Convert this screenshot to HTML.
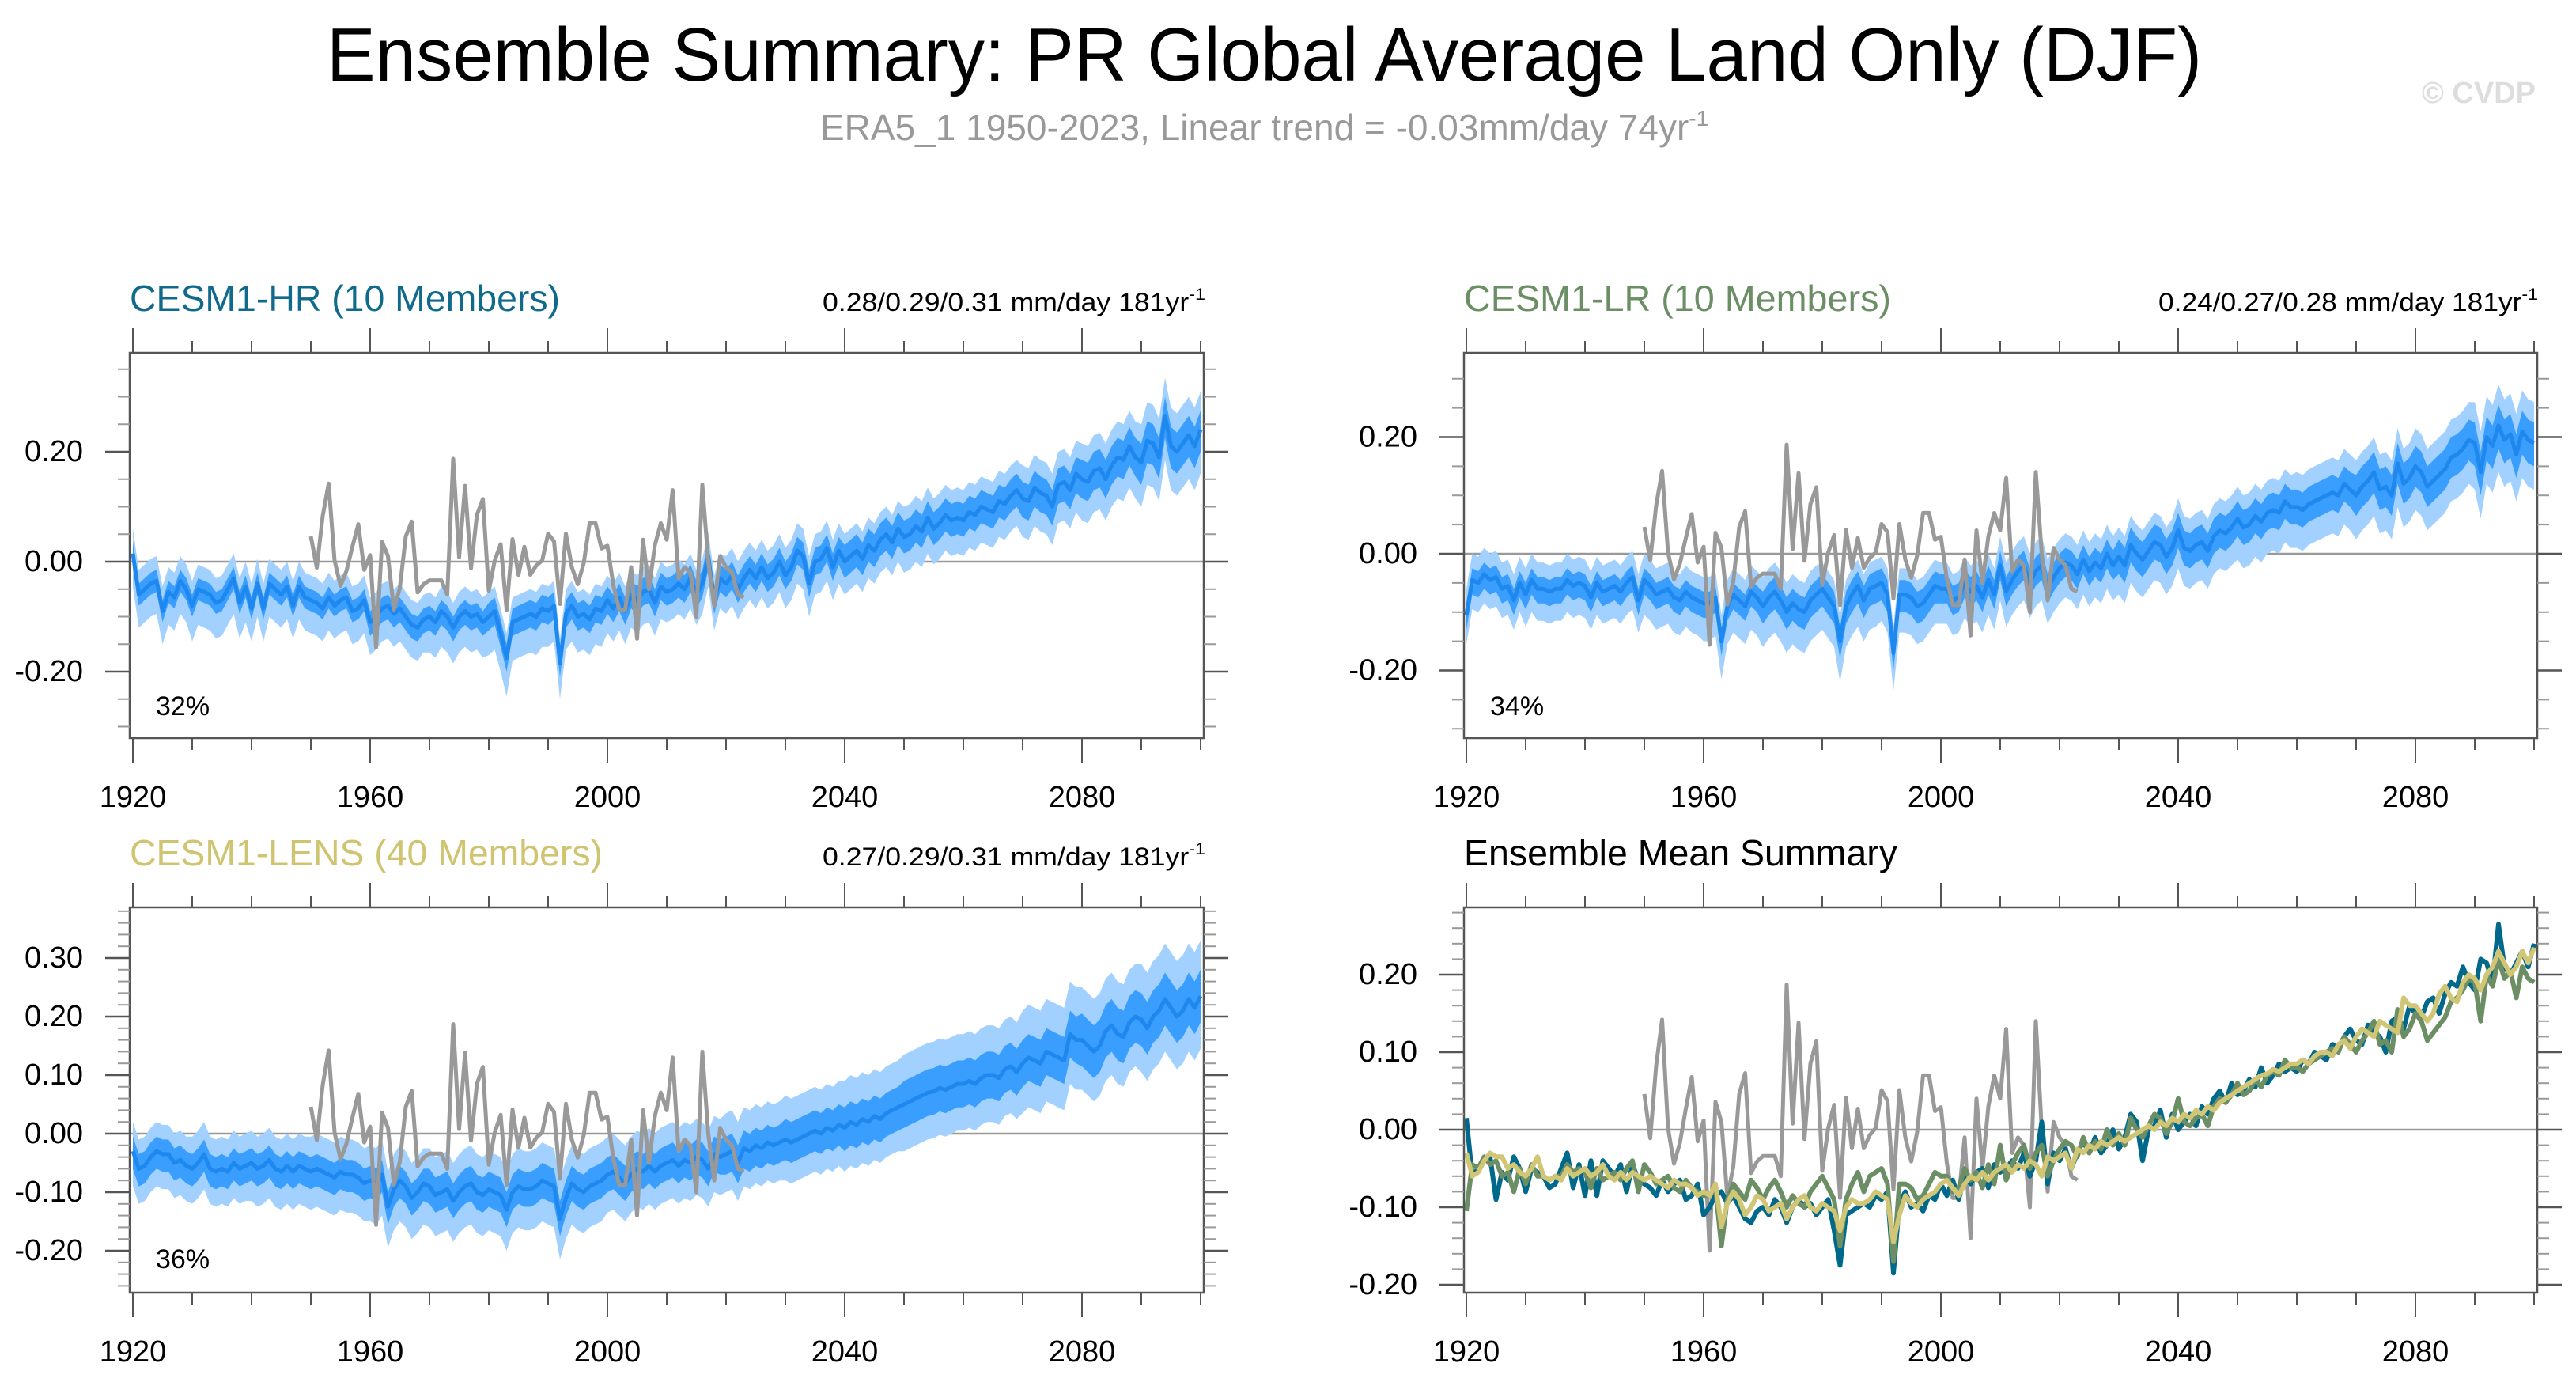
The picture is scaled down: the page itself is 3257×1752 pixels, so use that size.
<!DOCTYPE html>
<html><head><meta charset="utf-8">
<style>
html,body{margin:0;padding:0;background:#fff;}
svg{display:block;font-family:"Liberation Sans",Arial,sans-serif;}
</style></head>
<body>
<svg id="fig" width="3257" height="1752" viewBox="0 0 3257 1752" xmlns="http://www.w3.org/2000/svg">
<rect x="0" y="0" width="3257" height="1752" fill="#fff"/>
<text x="413" y="102" font-size="96" textLength="2371" lengthAdjust="spacingAndGlyphs" fill="#000">Ensemble Summary: PR Global Average Land Only (DJF)</text>
<text x="1037" y="177" font-size="46" fill="#999">ERA5_1 1950-2023, Linear trend = -0.03mm/day 74yr<tspan dy="-18" font-size="28">-1</tspan></text>
<text x="3206" y="130" font-size="38" font-weight="bold" text-anchor="end" fill="#ddd">© CVDP</text>

<text x="164" y="393" font-size="46" textLength="544" lengthAdjust="spacingAndGlyphs" fill="#0f6a8c">CESM1-HR (10 Members)</text>
<text x="1040" y="393" font-size="32" textLength="484" lengthAdjust="spacingAndGlyphs" fill="#000">0.28/0.29/0.31 mm/day 181yr<tspan dy="-14" font-size="21">-1</tspan></text>
<text x="1851" y="393" font-size="46" textLength="540" lengthAdjust="spacingAndGlyphs" fill="#6b8e65">CESM1-LR (10 Members)</text>
<text x="2729" y="393" font-size="32" textLength="480" lengthAdjust="spacingAndGlyphs" fill="#000">0.24/0.27/0.28 mm/day 181yr<tspan dy="-14" font-size="21">-1</tspan></text>
<text x="164" y="1094" font-size="46" textLength="598" lengthAdjust="spacingAndGlyphs" fill="#cfc470">CESM1-LENS (40 Members)</text>
<text x="1040" y="1094" font-size="32" textLength="484" lengthAdjust="spacingAndGlyphs" fill="#000">0.27/0.29/0.31 mm/day 181yr<tspan dy="-14" font-size="21">-1</tspan></text>
<text x="1851" y="1094" font-size="46" textLength="548" lengthAdjust="spacingAndGlyphs" fill="#000">Ensemble Mean Summary</text>
<text x="197" y="904" font-size="34" fill="#000">32%</text>
<text x="1884" y="904" font-size="34" fill="#000">34%</text>
<text x="197" y="1603" font-size="34" fill="#000">36%</text>
</svg>
<script>
// ---------- data ----------
const startYear = 1920;
const obsStart = 1950;
const obs = [0.046,-0.011,0.083,0.142,0.002,-0.044,-0.017,0.027,0.068,-0.015,
0.012,-0.156,0.036,0.010,-0.087,-0.048,0.046,0.073,-0.056,-0.041,
-0.034,-0.034,-0.034,-0.060,0.187,0.008,0.138,-0.012,0.085,0.114,
-0.053,0.002,0.032,-0.088,0.041,-0.024,0.027,-0.024,-0.007,0.002,
0.051,0.037,-0.077,0.051,-0.010,-0.041,-0.003,0.070,0.070,0.024,
0.029,-0.043,-0.088,-0.088,-0.010,
-0.14,0.04,-0.05,0.03,0.07,0.04,0.13,-0.03,-0.01,-0.02,-0.10,0.14,0.0,-0.08,0.01,-0.01,-0.02,-0.06,-0.065];

const hrMean = [0.015,-0.06,-0.05,-0.04,-0.035,-0.09,-0.055,-0.065,-0.035,-0.05,
-0.08,-0.05,-0.055,-0.06,-0.075,-0.07,-0.05,-0.03,-0.075,-0.045,
-0.085,-0.04,-0.085,-0.04,-0.05,-0.06,-0.045,-0.08,-0.045,-0.065,
-0.07,-0.075,-0.085,-0.065,-0.08,-0.07,-0.065,-0.09,-0.085,-0.07,
-0.11,-0.1,-0.085,-0.08,-0.095,-0.085,-0.1,-0.115,-0.12,-0.105,
-0.1,-0.11,-0.09,-0.1,-0.12,-0.1,-0.09,-0.1,-0.095,-0.11,
-0.1,-0.09,-0.13,-0.175,-0.11,-0.105,-0.1,-0.095,-0.1,-0.085,
-0.09,-0.08,-0.185,-0.095,-0.08,-0.1,-0.095,-0.105,-0.085,-0.09,
-0.07,-0.085,-0.065,-0.09,-0.06,-0.07,-0.055,-0.05,-0.075,-0.045,
-0.055,-0.05,-0.04,-0.05,-0.03,-0.06,-0.04,0.01,-0.07,-0.03,
-0.04,-0.025,-0.05,-0.03,-0.015,-0.03,-0.01,-0.03,-0.02,0.0,
-0.025,-0.01,0.02,0.01,-0.04,0.0,0.005,0.025,-0.01,0.02,
0.0,0.01,0.02,0.005,0.03,0.02,0.04,0.05,0.035,0.06,
0.045,0.05,0.065,0.055,0.08,0.06,0.07,0.085,0.075,0.08,
0.075,0.09,0.085,0.1,0.095,0.09,0.11,0.105,0.12,0.13,
0.115,0.11,0.135,0.125,0.12,0.1,0.14,0.145,0.13,0.16,
0.15,0.145,0.165,0.17,0.15,0.175,0.19,0.185,0.21,0.19,
0.18,0.22,0.215,0.19,0.265,0.21,0.2,0.215,0.23,0.21,
0.24];

const lrMean = [-0.105,-0.045,-0.05,-0.035,-0.045,-0.04,-0.06,-0.055,-0.08,-0.05,
-0.07,-0.045,-0.06,-0.06,-0.065,-0.06,-0.06,-0.045,-0.055,-0.05,
-0.055,-0.075,-0.05,-0.065,-0.06,-0.055,-0.065,-0.05,-0.04,-0.08,
-0.045,-0.055,-0.07,-0.065,-0.06,-0.075,-0.08,-0.065,-0.075,-0.08,
-0.085,-0.085,-0.075,-0.15,-0.09,-0.07,-0.08,-0.09,-0.065,-0.075,
-0.09,-0.075,-0.065,-0.08,-0.1,-0.085,-0.095,-0.1,-0.08,-0.07,
-0.06,-0.075,-0.09,-0.15,-0.09,-0.07,-0.055,-0.08,-0.06,-0.055,
-0.05,-0.07,-0.17,-0.07,-0.07,-0.075,-0.09,-0.085,-0.07,-0.055,
-0.06,-0.06,-0.08,-0.075,-0.05,-0.065,-0.055,-0.075,-0.045,-0.07,
-0.02,-0.065,-0.045,-0.03,-0.02,-0.05,-0.03,-0.02,-0.06,-0.04,
-0.025,-0.015,-0.02,-0.035,-0.01,-0.03,-0.015,-0.025,0.0,-0.02,
-0.005,-0.02,0.015,0.0,-0.01,0.005,0.02,0.015,-0.005,0.01,
0.04,0.01,0.005,0.015,0.02,0.005,0.03,0.04,0.035,0.045,
0.06,0.045,0.05,0.065,0.055,0.07,0.075,0.07,0.09,0.08,
0.08,0.075,0.085,0.09,0.095,0.1,0.105,0.1,0.12,0.11,
0.1,0.115,0.125,0.14,0.11,0.115,0.1,0.155,0.12,0.13,
0.15,0.14,0.115,0.125,0.135,0.145,0.165,0.17,0.18,0.195,
0.19,0.14,0.2,0.185,0.22,0.195,0.205,0.17,0.21,0.195,
0.19];

const lensMean = [-0.03,-0.06,-0.055,-0.04,-0.03,-0.035,-0.035,-0.05,-0.045,-0.055,
-0.06,-0.05,-0.035,-0.06,-0.065,-0.06,-0.065,-0.05,-0.06,-0.055,
-0.05,-0.06,-0.055,-0.045,-0.06,-0.065,-0.055,-0.065,-0.055,-0.06,
-0.065,-0.06,-0.065,-0.07,-0.075,-0.065,-0.07,-0.07,-0.075,-0.085,
-0.08,-0.085,-0.07,-0.125,-0.095,-0.08,-0.09,-0.11,-0.1,-0.085,
-0.09,-0.105,-0.1,-0.095,-0.115,-0.1,-0.09,-0.085,-0.1,-0.105,
-0.095,-0.1,-0.105,-0.13,-0.1,-0.09,-0.095,-0.095,-0.09,-0.08,
-0.085,-0.09,-0.145,-0.11,-0.085,-0.095,-0.1,-0.09,-0.085,-0.08,
-0.07,-0.065,-0.075,-0.085,-0.07,-0.06,-0.065,-0.055,-0.065,-0.055,
-0.05,-0.045,-0.055,-0.045,-0.05,-0.04,-0.045,-0.06,-0.035,-0.04,
-0.035,-0.03,-0.05,-0.025,-0.03,-0.02,-0.025,-0.015,-0.02,-0.015,
-0.01,-0.015,-0.01,-0.005,0.0,0.005,0.0,0.01,0.005,0.015,
0.01,0.02,0.015,0.025,0.02,0.03,0.025,0.035,0.04,0.045,
0.05,0.055,0.06,0.065,0.07,0.072,0.078,0.075,0.08,0.085,
0.085,0.09,0.085,0.095,0.1,0.1,0.095,0.11,0.115,0.105,
0.12,0.13,0.125,0.12,0.14,0.135,0.13,0.125,0.17,0.16,
0.16,0.15,0.14,0.15,0.175,0.185,0.17,0.165,0.19,0.2,
0.195,0.18,0.2,0.21,0.23,0.215,0.2,0.21,0.23,0.215,
0.235];

// decadal spread (half-widths below/above ensemble mean), 1920s..2100
const hrOuterLo = [0.06,0.065,0.06,0.06,0.06,0.065,0.07,0.065,0.06,0.055,0.055,0.06,0.06,0.065,0.065,0.07,0.075,0.08,0.08];
const hrOuterHi = [0.045,0.045,0.045,0.045,0.045,0.045,0.045,0.045,0.045,0.045,0.05,0.05,0.05,0.055,0.055,0.06,0.065,0.07,0.07];
const hrInnerLo = [0.02,0.02,0.02,0.02,0.025,0.025,0.025,0.025,0.025,0.025,0.025,0.025,0.03,0.03,0.03,0.035,0.035,0.04,0.04];
const hrInnerHi = [0.02,0.02,0.02,0.02,0.02,0.02,0.025,0.025,0.025,0.025,0.025,0.025,0.03,0.03,0.03,0.03,0.035,0.035,0.035];
const lrOuterLo = [0.05,0.055,0.055,0.06,0.065,0.07,0.07,0.065,0.06,0.06,0.06,0.065,0.065,0.07,0.07,0.075,0.075,0.08,0.08];
const lrOuterHi = [0.045,0.045,0.045,0.045,0.045,0.05,0.045,0.045,0.045,0.05,0.05,0.05,0.055,0.055,0.06,0.06,0.065,0.07,0.07];
const lrInnerLo = [0.025,0.025,0.025,0.025,0.025,0.03,0.03,0.03,0.025,0.025,0.025,0.03,0.03,0.03,0.03,0.035,0.035,0.04,0.04];
const lrInnerHi = [0.02,0.02,0.02,0.02,0.02,0.025,0.025,0.025,0.025,0.025,0.025,0.03,0.03,0.03,0.03,0.035,0.035,0.035,0.035];
const lensOuterLo = [0.06,0.06,0.065,0.065,0.07,0.07,0.07,0.07,0.065,0.065,0.065,0.07,0.075,0.08,0.08,0.085,0.085,0.09,0.09];
const lensOuterHi = [0.05,0.055,0.055,0.06,0.06,0.065,0.065,0.065,0.065,0.065,0.07,0.075,0.08,0.085,0.085,0.09,0.09,0.095,0.095];
const lensInnerLo = [0.03,0.03,0.03,0.03,0.03,0.03,0.03,0.03,0.03,0.03,0.035,0.035,0.04,0.04,0.04,0.04,0.045,0.045,0.045];
const lensInnerHi = [0.025,0.025,0.025,0.025,0.025,0.03,0.03,0.03,0.03,0.03,0.03,0.035,0.035,0.04,0.04,0.04,0.045,0.045,0.045];

const xTickYears = [1920,1960,2000,2040,2080];
const yTicksSmall = [-0.2,0,0.2];
const yTickLabelsSmall = ["-0.20","0.00","0.20"];
const yTicksLens = [-0.2,-0.1,0,0.1,0.2,0.3];
const yTickLabelsLens = ["-0.20","-0.10","0.00","0.10","0.20","0.30"];
const yTicksMean = [-0.2,-0.1,0,0.1,0.2];
const yTickLabelsMean = ["-0.20","-0.10","0.00","0.10","0.20"];

// ---------- layout ----------
const NS = "http://www.w3.org/2000/svg";
const svg = document.getElementById("fig");
const panels = [
 {key:"hr", L:164,R:1522,T:446,B:933,x0:168,x1:1518,zero:710,ppu:695,minStep:0.05,minLo:-0.3,minHi:0.35,ticks:yTicksSmall,labels:yTickLabelsSmall},
 {key:"lr", L:1851,R:3208,T:446,B:933,x0:1854,x1:3204,zero:700,ppu:737.5,minStep:0.05,minLo:-0.3,minHi:0.3,ticks:yTicksSmall,labels:yTickLabelsSmall},
 {key:"lens", L:164,R:1522,T:1147,B:1634,x0:168,x1:1518,zero:1433,ppu:740,minStep:0.02,minLo:-0.26,minHi:0.38,ticks:yTicksLens,labels:yTickLabelsLens},
 {key:"mean", L:1851,R:3208,T:1147,B:1634,x0:1854,x1:3204,zero:1428,ppu:980,minStep:0.02,minLo:-0.2,minHi:0.28,ticks:yTicksMean,labels:yTickLabelsMean}
];
function xs(p, year){ return p.x0 + (p.x1-p.x0)*(year-1920)/180; }
function ys(p, v){ return p.zero - v*p.ppu; }
function mk(tag, attrs){ const e=document.createElementNS(NS,tag); for(const k in attrs) e.setAttribute(k,attrs[k]); return e; }
function linePath(p, arr, y0){ return arr.map((v,i)=>(i?"L":"M")+xs(p,y0+i).toFixed(1)+","+ys(p,v).toFixed(1)).join(""); }
function bandPath(p, mean, lo, hi){
  let up=[], dn=[];
  mean.forEach((m,i)=>{ const d=Math.floor(i/10); up.push(xs(p,startYear+i).toFixed(1)+","+ys(p,m+hi[d]).toFixed(1)); dn.push(xs(p,startYear+i).toFixed(1)+","+ys(p,m-lo[d]).toFixed(1)); });
  return "M"+up.join("L")+"L"+dn.reverse().join("L")+"Z";
}

panels.forEach(p=>{
  const g = mk("g",{});
  
  
  svg.appendChild(g);
  const clipId = "clip-"+p.key;
  const cp = mk("clipPath",{id:clipId}); cp.appendChild(mk("rect",{x:p.L,y:p.T,width:p.R-p.L,height:p.B-p.T})); g.appendChild(cp);
  const plot = mk("g",{"clip-path":"url(#"+clipId+")"});
  
  
  g.appendChild(plot);

  const zl = mk("line",{x1:p.L,x2:p.R,y1:ys(p,0),y2:ys(p,0),stroke:"#999","stroke-width":2.5});
  
  
  plot.appendChild(zl);

  const bandSets = {hr:[hrMean,hrOuterLo,hrOuterHi,hrInnerLo,hrInnerHi],lr:[lrMean,lrOuterLo,lrOuterHi,lrInnerLo,lrInnerHi],lens:[lensMean,lensOuterLo,lensOuterHi,lensInnerLo,lensInnerHi]};
  if(p.key!=="mean"){
    const s = bandSets[p.key];
    const ob = mk("path",{d:bandPath(p,s[0],s[1],s[2]),fill:"#a3d1ff"});
    
    
    plot.appendChild(ob);
    const ib = mk("path",{d:bandPath(p,s[0],s[3],s[4]),fill:"#3a9eff"});
    
    
    plot.appendChild(ib);
    const ml = mk("path",{d:linePath(p,s[0],startYear),fill:"none",stroke:"#1e88ee","stroke-width":5,"stroke-linejoin":"round"});
    
    
    plot.appendChild(ml);
    const ol = mk("path",{d:linePath(p,obs,obsStart),fill:"none",stroke:"#999","stroke-width":5,"stroke-linejoin":"round"});
    
    
    plot.appendChild(ol);
  } else {
    const ol = mk("path",{d:linePath(p,obs,obsStart),fill:"none",stroke:"#999","stroke-width":5,"stroke-linejoin":"round"});
    
    
    plot.appendChild(ol);
    const l1 = mk("path",{d:linePath(p,hrMean,startYear),fill:"none",stroke:"#00688b","stroke-width":6,"stroke-linejoin":"round"});
    
    
    plot.appendChild(l1);
    const l2 = mk("path",{d:linePath(p,lrMean,startYear),fill:"none",stroke:"#6b8e65","stroke-width":6,"stroke-linejoin":"round"});
    
    
    plot.appendChild(l2);
    const l3 = mk("path",{d:linePath(p,lensMean,startYear),fill:"none",stroke:"#d0c676","stroke-width":6,"stroke-linejoin":"round"});
    
    
    plot.appendChild(l3);
  }

  const fr = mk("rect",{x:p.L,y:p.T,width:p.R-p.L,height:p.B-p.T,fill:"none",stroke:"#555","stroke-width":2.5});
  
  
  g.appendChild(fr);

  for(let yr=1920; yr<=2100; yr+=10){
    const major = (yr-1920)%40===0 && yr<=2080;
    const len = major?31:15;
    const x = xs(p,yr);
    const t1 = mk("line",{x1:x,x2:x,y1:p.T,y2:p.T-len,stroke:"#555","stroke-width":2});
    
    
    g.appendChild(t1);
    const t2 = mk("line",{x1:x,x2:x,y1:p.B,y2:p.B+len,stroke:"#555","stroke-width":2});
    
    
    g.appendChild(t2);
  }
  xTickYears.forEach(yr=>{
    const t = mk("text",{x:xs(p,yr),y:p.B+75,"font-size":38,"text-anchor":"middle","dominant-baseline":"central",fill:"#000"});
    t.textContent = String(yr);
    
    
    g.appendChild(t);
  });
  const n = Math.round((p.minHi-p.minLo)/p.minStep);
  for(let k=0;k<=n;k++){
    const v = p.minLo + k*p.minStep;
    const y = ys(p,v);
    if(y<p.T-2||y>p.B+2) continue;
    const a = mk("line",{x1:p.L,x2:p.L-15,y1:y,y2:y,stroke:"#999","stroke-width":2});
    
    
    g.appendChild(a);
    const b = mk("line",{x1:p.R,x2:p.R+15,y1:y,y2:y,stroke:"#999","stroke-width":2});
    
    
    g.appendChild(b);
  }
  p.ticks.forEach((v,i)=>{
    const y = ys(p,v);
    const a = mk("line",{x1:p.L,x2:p.L-31,y1:y,y2:y,stroke:"#555","stroke-width":2.5});
    
    
    g.appendChild(a);
    const b = mk("line",{x1:p.R,x2:p.R+31,y1:y,y2:y,stroke:"#555","stroke-width":2.5});
    
    
    g.appendChild(b);
    const t = mk("text",{x:p.L-59,y:y,"font-size":38,"text-anchor":"end","dominant-baseline":"central",fill:"#000"});
    t.textContent = p.labels[i];
    
    
    g.appendChild(t);
  });
});
</script>
</body></html>
